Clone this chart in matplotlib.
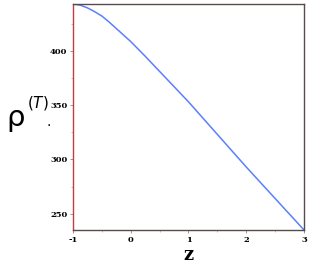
import matplotlib
matplotlib.use("Agg")
import matplotlib.pyplot as plt
from matplotlib.ticker import MultipleLocator

# values
z_values = [-1.0, -0.875, -0.75, -0.625, -0.5, -0.375, -0.25, -0.125, 0.0,
            0.25, 0.5, 0.75, 1.0, 1.5, 2.0, 2.5, 3.0]
rho_values = [443, 442, 439.5, 436, 432, 426.5, 420.5, 414.5, 408.5,
              395, 381, 367, 353, 323, 293, 264, 235]
x_ticks = [-1, 0, 1, 2, 3]
y_ticks = [250, 300, 350, 400]

fig = plt.figure(figsize=(3.09, 2.70), dpi=100)
ax = fig.add_axes([0.236, 0.148, 0.748, 0.837])

ax.plot(z_values, rho_values, color="#5b7fff", linewidth=1.1)

ax.set_xlim(-1, 3)
ax.set_ylim(235, 443)
ax.set_xticks(x_ticks)
ax.set_yticks(y_ticks)
ax.xaxis.set_minor_locator(MultipleLocator(0.5))
ax.yaxis.set_minor_locator(MultipleLocator(25))

tick_font = {"family": "DejaVu Serif", "size": 6, "weight": "bold"}
ax.set_xticklabels([str(t) for t in x_ticks], fontdict=tick_font)
ax.set_yticklabels([str(t) for t in y_ticks], fontdict=tick_font)
ax.tick_params(which="major", direction="out", length=2, width=0.6,
               color="#888888", pad=2)
ax.tick_params(which="minor", direction="out", length=1.5, width=0.5,
               color="#aaaaaa")

for side in ("top", "right", "bottom"):
    ax.spines[side].set_color("#5a4a4a")
    ax.spines[side].set_linewidth(1.0)
ax.spines["left"].set_color("#c04040")
ax.spines["left"].set_linewidth(1.0)

ax.set_xlabel("z", fontfamily="DejaVu Serif", fontsize=13, fontweight="bold",
              labelpad=2)

# y label drawn in pieces: rho, superscript (T), trailing dot
fig.text(0.022, 0.535, "ρ", fontsize=21, fontfamily="DejaVu Sans")
fig.text(0.088, 0.6, r"$(T)$", fontsize=11)
fig.text(0.152, 0.535, ".", fontsize=10)

fig.savefig("out.png", dpi=100)
